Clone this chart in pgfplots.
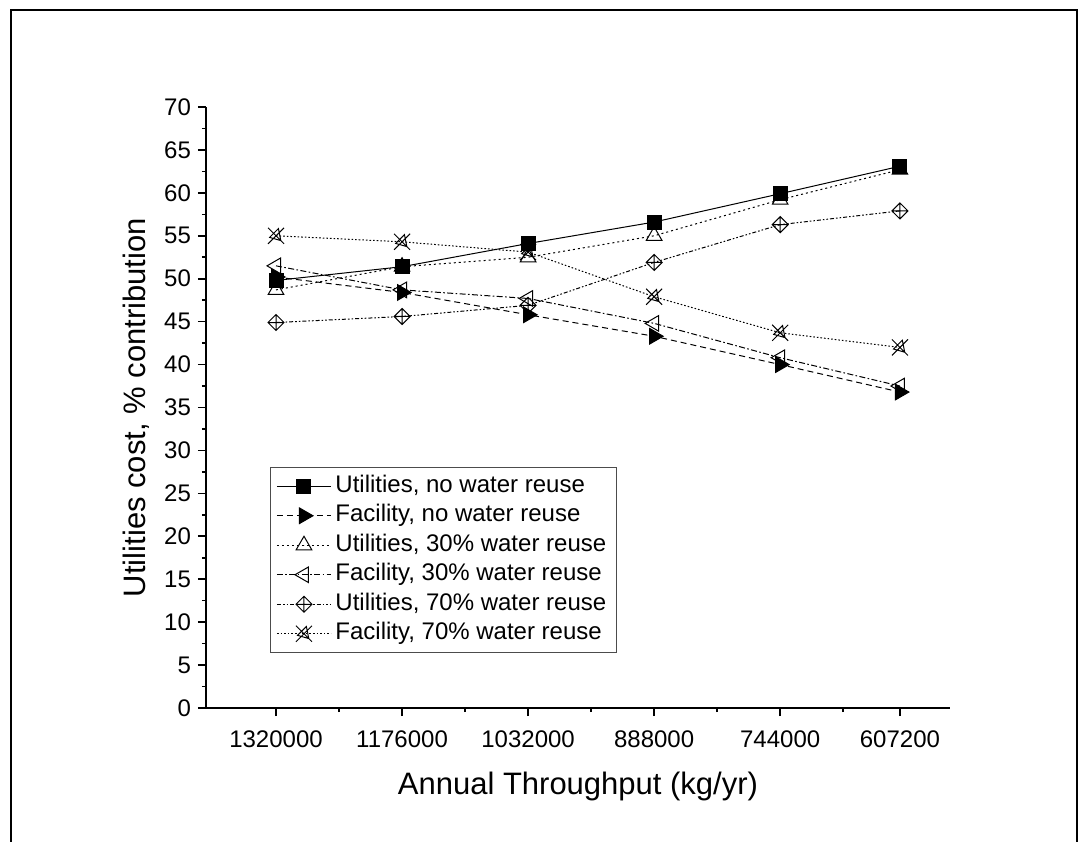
\documentclass[border=0pt]{standalone}
\usepackage{fontspec}
\setmainfont{Liberation Sans}
\usepackage{pgfplots}
\pgfplotsset{compat=1.18}

\pgfdeclareplotmark{diamondplus}{%
  \pgfpathmoveto{\pgfqpoint{0pt}{\pgfplotmarksize}}%
  \pgfpathlineto{\pgfqpoint{\pgfplotmarksize}{0pt}}%
  \pgfpathlineto{\pgfqpoint{0pt}{-\pgfplotmarksize}}%
  \pgfpathlineto{\pgfqpoint{-\pgfplotmarksize}{0pt}}%
  \pgfpathclose
  \pgfpathmoveto{\pgfqpoint{0pt}{\pgfplotmarksize}}%
  \pgfpathlineto{\pgfqpoint{0pt}{-\pgfplotmarksize}}%
  \pgfpathmoveto{\pgfqpoint{\pgfplotmarksize}{0pt}}%
  \pgfpathlineto{\pgfqpoint{-\pgfplotmarksize}{0pt}}%
  \pgfusepathqstroke}
\pgfdeclareplotmark{xtri}{%
  \pgfpathmoveto{\pgfqpoint{-\pgfplotmarksize}{-\pgfplotmarksize}}%
  \pgfpathlineto{\pgfqpoint{\pgfplotmarksize}{\pgfplotmarksize}}%
  \pgfpathmoveto{\pgfqpoint{-\pgfplotmarksize}{\pgfplotmarksize}}%
  \pgfpathlineto{\pgfqpoint{\pgfplotmarksize}{-\pgfplotmarksize}}%
  \pgfpathmoveto{\pgfqpoint{0.3\pgfplotmarksize}{0.9\pgfplotmarksize}}%
  \pgfpathlineto{\pgfqpoint{0.6\pgfplotmarksize}{-0.6\pgfplotmarksize}}%
  \pgfpathlineto{\pgfqpoint{-0.8\pgfplotmarksize}{-0.2\pgfplotmarksize}}%
  \pgfpathclose
  \pgfusepathqstroke}

\begin{document}
\begin{tikzpicture}
\useasboundingbox (-103pt,-66.5pt) rectangle (442.5pt,354pt);
\begin{axis}[
  scale only axis, width=372pt, height=300.5pt,
  x dir=reverse, xmin=550000, xmax=1400000, ymin=0, ymax=70,
  axis x line*=bottom, axis y line*=left,
  axis line style={line width=1pt, -},
  xtick={1320000,1176000,1032000,888000,744000,607200},
  xticklabels={1320000,1176000,1032000,888000,744000,607200},
  minor xtick={1248000,1104000,960000,816000,672000},
  ytick={0,5,...,70}, minor ytick={2.5,7.5,...,67.5},
  tick align=outside, major tick length=4pt, minor tick length=2pt,
  tick style={line width=0.8pt, black},
  scaled x ticks=false,
  /pgf/number format/assume math mode=true,
  ticklabel style={font=\fontsize{12}{14}\selectfont},
  xticklabel shift=4pt,
  xlabel={Annual Throughput (kg/yr)},
  ylabel={Utilities cost, \% contribution},
  label style={font=\fontsize{15.5}{18}\selectfont},
  xlabel style={at={(axis description cs:0.5,-0.13)}, anchor=center},
  ylabel style={at={(axis description cs:-0.094,0.5)}, anchor=center},
  legend style={at={(axis description cs:0.086,0.401)}, anchor=north west,
    draw=black!70, line width=0.5pt, font=\fontsize{12}{13.5}\selectfont,
    nodes={text height=8.7pt, text depth=2.5pt, inner ysep=1.775pt}},
  legend cell align=left,
  legend image code/.code={\draw[mark repeat=2,mark phase=2,#1] plot coordinates {(0pt,0pt) (13.5pt,0pt) (27pt,0pt)};},
  every axis plot/.append style={black, line width=0.5pt},
]
\addplot[solid, mark=square*, mark size=3.5pt, mark options={solid}] coordinates {
(1320000,49.8) (1176000,51.4) (1032000,54.1) (888000,56.6) (744000,59.9) (607200,63.1)};
\addlegendentry{Utilities, no water reuse}
\addplot[dash pattern=on 3pt off 2pt, mark=triangle*, mark size=4.5pt, mark options={solid, rotate=-90}] coordinates {
(1320000,50.2) (1176000,48.4) (1032000,45.8) (888000,43.3) (744000,40.0) (607200,36.8)};
\addlegendentry{Facility, no water reuse}
\addplot[dash pattern=on 1pt off 1.5pt, mark=triangle, mark size=4.5pt, mark options={solid, fill=white}] coordinates {
(1320000,48.7) (1176000,51.4) (1032000,52.5) (888000,55.0) (744000,59.2) (607200,62.7)};
\addlegendentry{Utilities, 30\% water reuse}
\addplot[dash pattern=on 3pt off 1.2pt on 0.8pt off 1.2pt, mark=triangle, mark size=4.5pt, mark options={solid, rotate=90}] coordinates {
(1320000,51.5) (1176000,48.7) (1032000,47.7) (888000,44.8) (744000,40.8) (607200,37.5)};
\addlegendentry{Facility, 30\% water reuse}
\addplot[dash pattern=on 2pt off 1pt on 0.8pt off 1pt on 0.8pt off 1pt, mark=diamondplus, mark size=4pt, mark options={solid}] coordinates {
(1320000,44.9) (1176000,45.6) (1032000,46.9) (888000,51.9) (744000,56.3) (607200,57.9)};
\addlegendentry{Utilities, 70\% water reuse}
\addplot[dash pattern=on 0.8pt off 1pt, mark=xtri, mark size=4pt, mark options={solid}] coordinates {
(1320000,55.0) (1176000,54.3) (1032000,53.1) (888000,47.9) (744000,43.7) (607200,42.0)};
\addlegendentry{Facility, 70\% water reuse}
\end{axis}
\draw[line width=1pt] (-97.5pt,-80pt) -- (-97.5pt,349pt) -- (435.5pt,349pt) -- (435.5pt,-80pt);
\end{tikzpicture}
\end{document}
